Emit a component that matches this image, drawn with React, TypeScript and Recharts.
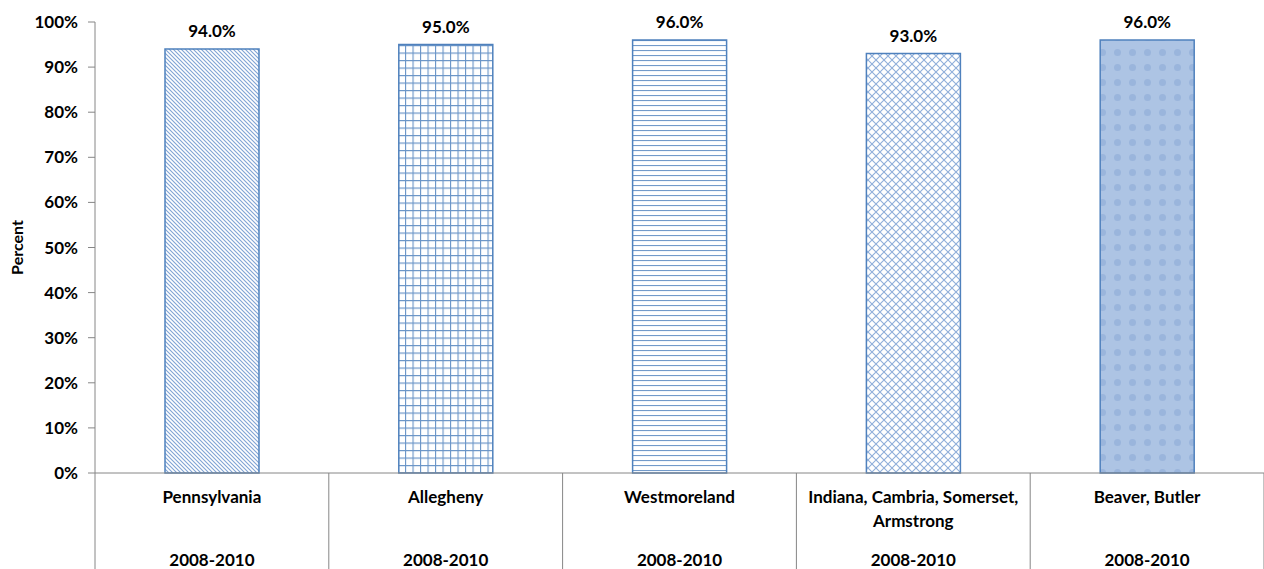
import React from "react";
import { BarChart, Bar, XAxis, YAxis, Cell, LabelList } from "recharts";

const categories = [
  "Pennsylvania",
  "Allegheny",
  "Westmoreland",
  "Indiana, Cambria, Somerset, Armstrong",
  "Beaver, Butler",
];
const periods = ["2008-2010", "2008-2010", "2008-2010", "2008-2010", "2008-2010"];
const values = [0.94, 0.95, 0.96, 0.93, 0.96];
const yTicks = [0, 0.1, 0.2, 0.3, 0.4, 0.5, 0.6, 0.7, 0.8, 0.9, 1.0];
const patternIds = ["pDiag", "pGrid", "pHoriz", "pCross", "pDots"];

const data = categories.map((c, i) => ({ name: c, period: periods[i], value: values[i] }));

const W = 1264;
const H = 569;
const LEFT = 95;
const BOTTOM = 96;
const TOP = 22;
const HALF_BAND = (W - LEFT) / categories.length / 2;
const FONT = "Lato, 'Open Sans', sans-serif";
const FS = 17;
const BLUE = "#4F81BD";
const AXIS = "#868686";

function wrap(text: string, maxChars: number): string[] {
  const words = text.split(" ");
  const lines: string[] = [];
  let cur = "";
  for (const w of words) {
    const next = cur ? cur + " " + w : w;
    if (next.length > maxChars && cur) {
      lines.push(cur);
      cur = w;
    } else cur = next;
  }
  if (cur) lines.push(cur);
  return lines;
}

const CatTick = (props: any) => {
  const { x, y, payload, index } = props;
  const lines = wrap(String(payload.value), 28);
  const period = data[index] ? data[index].period : "";
  return (
    <g>
      {index === 0 && (
        <line x1={x - HALF_BAND} x2={x - HALF_BAND} y1={y} y2={H} stroke={AXIS} strokeWidth={1} />
      )}
      <line x1={x + HALF_BAND} x2={x + HALF_BAND} y1={y} y2={H} stroke={AXIS} strokeWidth={1} />
      {lines.map((l, i) => (
        <text
          key={i}
          x={x}
          y={y + 30 + i * 24}
          textAnchor="middle"
          fontFamily={FONT}
          fontWeight="bold"
          fontSize={FS}
          fill="#000"
        >
          {l}
        </text>
      ))}
      <text
        x={x}
        y={y + 93}
        textAnchor="middle"
        fontFamily={FONT}
        fontWeight="bold"
        fontSize={FS}
        fill="#000"
      >
        {period}
      </text>
    </g>
  );
};

export default function App() {
  return (
    <div style={{ position: "absolute", left: 0, top: 0, width: W, height: H, background: "#fff" }}>
      <BarChart
        width={W}
        height={H}
        data={data}
        margin={{ top: TOP, right: 0, bottom: 0, left: 0 }}
        barCategoryGap="30%"
      >
        <defs>
          <pattern id="pDiag" patternUnits="userSpaceOnUse" width="4" height="4">
            <rect width="4" height="4" fill="#fff" />
            <path d="M-1,3 l2,2 M0,0 l4,4 M3,-1 l2,2" stroke="#7FA3D4" strokeWidth="1.1" />
          </pattern>
          <pattern id="pGrid" patternUnits="userSpaceOnUse" width="7.5" height="7.5">
            <rect width="7.5" height="7.5" fill="#fff" />
            <path d="M0,0.5 H7.5 M0.5,0 V7.5" stroke={BLUE} strokeWidth="1.2" opacity="0.85" />
          </pattern>
          <pattern id="pHoriz" patternUnits="userSpaceOnUse" width="8" height="5">
            <rect width="8" height="5" fill="#fff" />
            <path d="M0,0.5 H8" stroke={BLUE} strokeWidth="1.2" opacity="0.8" />
          </pattern>
          <pattern id="pCross" patternUnits="userSpaceOnUse" width="8" height="8">
            <rect width="8" height="8" fill="#fff" />
            <path d="M0,0 L8,8 M8,0 L0,8" stroke="#8FAEDA" strokeWidth="1.1" />
          </pattern>
          <pattern id="pDots" patternUnits="userSpaceOnUse" width="15" height="15">
            <rect width="15" height="15" fill="#ADC4E4" />
            <circle cx="7.5" cy="7.5" r="3.5" fill="#9AB5DC" />
          </pattern>
        </defs>
        <XAxis
          dataKey="name"
          interval={0}
          height={BOTTOM}
          tickLine={false}
          tickSize={0}
          tickMargin={0}
          axisLine={{ stroke: AXIS, strokeWidth: 1 }}
          tick={<CatTick />}
        />
        <YAxis
          width={LEFT}
          domain={[0, 1]}
          ticks={yTicks}
          interval={0}
          tickSize={7}
          tickMargin={10}
          axisLine={{ stroke: AXIS, strokeWidth: 1 }}
          tickLine={{ stroke: AXIS, strokeWidth: 1 }}
          tickFormatter={(v: number) => `${Math.round(v * 100)}%`}
          tick={{ fontFamily: FONT, fontWeight: "bold", fontSize: FS, fill: "#000" }}
          label={{
            value: "Percent",
            angle: -90,
            position: "center",
            dx: -30,
            style: { fontFamily: FONT, fontWeight: "bold", fontSize: FS - 1, fill: "#000" },
          }}
        />
        <Bar dataKey="value" isAnimationActive={false} stroke={BLUE} strokeWidth={1.5} barSize={94}>
          {data.map((d, i) => (
            <Cell key={d.name} fill={`url(#${patternIds[i]})`} />
          ))}
          <LabelList
            dataKey="value"
            position="top"
            offset={12}
            formatter={(v: any) => `${(Number(v) * 100).toFixed(1)}%`}
            style={{ fontFamily: FONT, fontWeight: "bold", fontSize: FS, fill: "#000" }}
          />
        </Bar>
      </BarChart>
    </div>
  );
}
